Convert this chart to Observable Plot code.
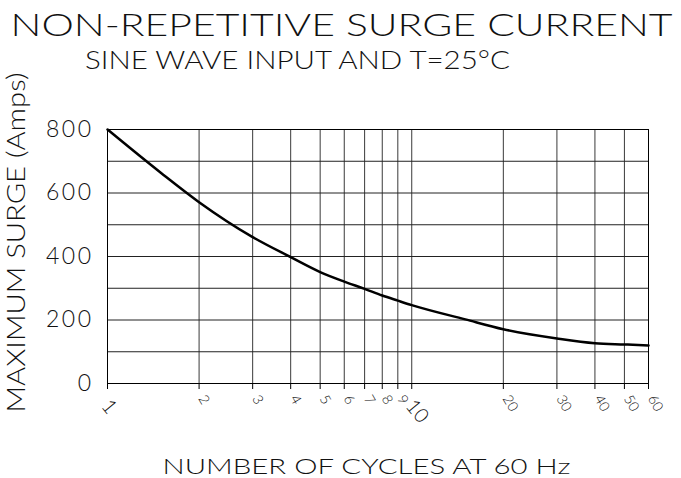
<!DOCTYPE html>
<html>
<head>
<meta charset="utf-8">
<script src="https://cdn.jsdelivr.net/npm/d3@7"></script>
<script src="https://cdn.jsdelivr.net/npm/@observablehq/plot@0.6"></script>
<style>
  html, body { margin: 0; padding: 0; background: #fff; }
  #chart svg { display: block; font-family: Lato, "DejaVu Sans", sans-serif; font-weight: 300; }
  #chart .y-lab text { letter-spacing: 2.5px; }
</style>
</head>
<body>
<div id="chart"></div>
<script>
// Data
const cycles = [1, 1.5, 2, 3, 4, 5, 6, 7, 8, 9, 10, 15, 20, 30, 40, 50, 60];
const surge  = [800, 663, 571, 461, 398, 351, 321, 298, 277, 261, 247, 202, 171, 142, 127, 123, 120];
const xTicksMajor = [1, 10];
const xTicksMinor = [2, 3, 4, 5, 6, 7, 8, 9, 20, 30, 40, 50, 60];
const xGrid = [1, 2, 3, 4, 5, 6, 7, 8, 9, 10, 20, 30, 40, 50, 60];
const yTicks = [0, 200, 400, 600, 800];
const yGrid = [0, 100, 200, 300, 400, 500, 600, 700, 800];
const title = "NON-REPETITIVE SURGE CURRENT";
const subtitle = "SINE WAVE INPUT AND T=25°C";
const xLabel = "NUMBER OF CYCLES AT 60 Hz";
const yLabel = "MAXIMUM SURGE (Amps)";

const data = cycles.map((c, i) => ({c, s: surge[i]}));

const chart = Plot.plot({
  width: 681,
  height: 478,
  marginTop: 129,
  marginBottom: 95,
  marginLeft: 107,
  marginRight: 33,
  style: {fontFamily: "Lato, 'DejaVu Sans', sans-serif", color: "#111", background: "#fff"},
  x: {type: "log", domain: [1, 60]},
  y: {domain: [0, 800]},
  marks: [
    Plot.gridX(xGrid, {stroke: "#3a3a3a", strokeOpacity: 1}),
    Plot.gridY(yGrid, {stroke: "#222", strokeOpacity: 1}),
    Plot.frame({stroke: "#000"}),
    Plot.axisY(yTicks, {tickSize: 0, tickPadding: 14, fontSize: 23, label: null, tickFormat: d => String(d), className: "y-lab"}),
    Plot.axisX(xGrid, {tickSize: 6, stroke: "#000", label: null, tickFormat: () => ""}),
    Plot.text(xTicksMinor, {x: d => d, text: d => String(d), frameAnchor: "bottom", rotate: 60, textAnchor: "start", dy: 15, dx: -1, fontSize: 14, fill: "#111"}),
    Plot.text(xTicksMajor, {x: d => d, text: d => String(d), frameAnchor: "bottom", rotate: 50, textAnchor: "start", dy: 23, dx: -7, fontSize: 20, fill: "#111"}),
    Plot.line(data, {x: "c", y: "s", curve: "monotone-x", stroke: "#000", strokeWidth: 2.5}),
    Plot.text([title], {frameAnchor: "top", textAnchor: "middle", dx: -36.5, dy: -94, lineAnchor: "bottom", fontSize: 32, className: "t-title"}),
    Plot.text([subtitle], {frameAnchor: "top", textAnchor: "middle", dx: -80.5, dy: -61, lineAnchor: "bottom", fontSize: 25, className: "t-sub"}),
    Plot.text([xLabel], {frameAnchor: "bottom", textAnchor: "middle", dx: -11.5, dy: 90, lineAnchor: "bottom", fontSize: 21, className: "t-x"}),
    Plot.text([yLabel], {frameAnchor: "left", textAnchor: "middle", dx: -83, dy: -14, rotate: -90, lineAnchor: "bottom", fontSize: 25, className: "t-y"})
  ]
});
document.getElementById("chart").appendChild(chart);

// stretch titles to the reference widths
const fit = (cls, len) => d3.select(chart).selectAll(`.${cls} text`).attr("textLength", len).attr("lengthAdjust", "spacingAndGlyphs");
fit("t-title", 662);
fit("t-sub", 425);
fit("t-x", 408);
fit("t-y", 340);
</script>
</body>
</html>
